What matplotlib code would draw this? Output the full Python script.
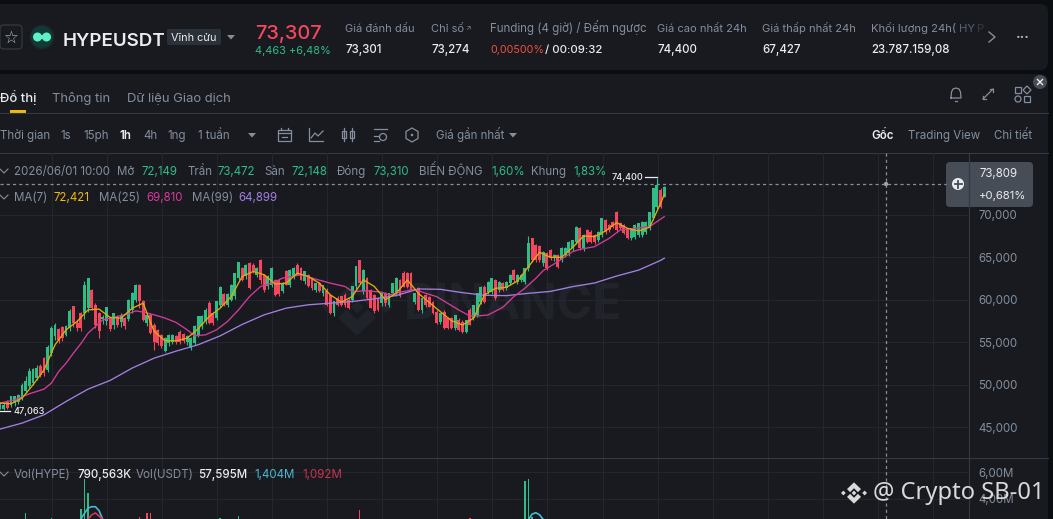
import matplotlib
matplotlib.use('Agg')
import matplotlib.pyplot as plt
from matplotlib.patches import FancyBboxPatch, Rectangle, Circle, Polygon

plt.rcParams['font.family'] = ['Inter', 'DejaVu Sans']

# candles, 1h
opens = [47230,47100,48000,47620,47800,48000,48400,49190,49780,50175,
         50765,52140,53120,51750,53710,55675,56560,56760,55900,56660,
         59215,57250,58430,58500,59000,61180,59400,58400,57700,57500,
         57800,57000,58000,57400,57900,57700,58800,60000,61770,59800,
         57250,58230,57050,56460,55870,53910,54890,55010,55680,56190,
         55950,55010,54300,54890,55870,56855,57445,59600,58430,57840,
         59410,60670,59410,60000,60390,62550,63735,62750,64320,64130,
         62950,64715,62950,61570,61770,62360,62360,60980,63340,61770,
         62750,64130,63735,62160,62950,62550,61180,61965,60785,60980,
         60590,58430,60195,60390,60590,60000,60000,61570,64715,60980,
         62550,61180,60590,60195,59600,60785,59410,60785,60785,62360,
         63200,63120,63120,59780,61355,58800,60570,60370,59780,58600,
         57425,58600,57815,57815,56640,57620,57425,56245,58800,57815,
         58210,59780,61550,60960,60960,62337,61160,61945,61355,61945,
         63516,62140,62337,62140,63710,67250,66460,66345,64300,65480,
         65870,64890,65280,64700,65280,65480,66070,66855,68430,66070,
         68230,68035,67640,67050,67640,69410,68820,69215,70390,69020,
         68820,68430,67250,67445,67640,67640,68035,68430,69600,70980,
         73000,72149]
highs = [48000,47900,48200,48700,48700,48900,50200,51000,51900,52000,
         52300,52400,53300,54700,56900,57300,56700,56900,57000,58900,
         59300,57600,58600,62160,62600,61300,59600,58600,58200,59100,
         58000,58400,58200,58500,58000,60100,60900,61900,61900,60000,
         58300,58400,57300,56600,56000,55600,56000,56000,55800,56400,
         56100,55800,55600,57000,58100,58200,59000,59800,58600,59900,
         61600,60800,60800,61900,63200,64500,63900,64200,64400,64300,
         63900,64800,63100,62900,63900,62500,62500,62100,63500,63600,
         63900,64300,63900,63400,63100,62700,62000,62100,61800,61400,
         60700,59900,60400,60500,60800,60200,61600,63950,64750,63600,
         62700,61300,60700,60300,60900,60900,60800,62000,62700,62500,
         63400,63250,63300,60800,61500,60200,60700,60500,59900,58800,
         58400,58800,58000,58000,58200,57800,57600,57650,59000,59400,
         60800,61600,61700,62200,62600,62500,62200,62100,62200,63000,
         63650,63000,63000,63800,67525,67300,66600,66500,65800,65600,
         66000,65400,65400,66200,66200,66900,67100,68700,68600,67700,
         68400,68200,67800,68100,69700,69500,68900,69300,70500,69200,
         68950,68500,68500,68900,69100,69300,69300,70400,73200,74400,
         73200,73472]
lows = [47100,47063,47100,47400,47500,47700,48200,49000,49600,49900,
        50500,50900,51000,51500,53400,55300,54900,55200,55700,56300,
        56800,56300,56300,57700,58600,58800,56700,55500,57200,57000,
        56300,56600,56800,56800,56500,57500,58500,59700,59000,57500,
        56900,56000,54100,54700,54300,53800,54600,54800,54800,54800,
        54900,54700,54100,54700,55600,56600,57200,57100,57000,57600,
        59200,59300,59200,59800,60100,62300,62200,62500,61300,63200,
        62700,61900,60900,61300,61500,60500,60500,60800,61700,61500,
        62500,62900,62300,61900,61500,61200,60900,60900,60500,59300,
        58300,58100,59300,59300,59200,58900,59700,61300,61900,60700,
        60100,59000,58500,58700,59300,59300,59100,60500,60500,60300,
        61500,61400,61100,59500,58700,58500,59200,59100,58300,57100,
        57200,56500,56500,56500,56400,56300,56100,56050,57000,57600,
        58000,59500,59600,60700,60700,60000,60900,61000,61100,61700,
        62100,61900,62100,61900,63400,64500,64500,64500,64000,63500,
        64700,64600,63700,64400,65000,65200,65800,66600,65900,65800,
        66700,66700,66600,66800,67400,67800,68000,68500,68000,68300,
        67800,67200,67000,67200,67400,67400,67800,68200,69400,70700,
        70800,72148]
closes = [47815,47620,47230,48600,48600,48800,49980,50370,51550,51825,
          51945,51160,51355,54420,56660,57050,55285,55480,56900,58625,
          57250,56660,56660,61800,62555,59000,57000,56300,58000,59100,
          56600,58400,57000,58200,56900,60000,60800,61690,59800,57640,
          58230,56070,55000,54890,54500,55480,55870,55870,55010,55010,
          55090,55680,55480,56855,58035,58035,58820,57250,57250,59800,
          61490,59410,60670,61770,63140,64440,62360,64130,61375,63340,
          63735,62360,61180,62750,63735,60590,60670,61965,61770,63535,
          63735,62950,62360,63340,61570,61375,61965,60980,61770,59410,
          58430,59800,59410,59410,59410,59020,61570,63930,61965,63535,
          60195,59020,58625,58820,60785,59600,60785,61965,62550,60390,
          61550,61550,61160,60765,58800,60175,59390,59190,58400,57230,
          58400,56640,56640,56640,58210,56440,56245,57620,57030,59390,
          60765,61550,59780,62140,62530,60175,62140,61160,62140,62925,
          62337,62925,62925,63710,66660,64695,64695,64700,65675,63710,
          64890,65280,63910,66070,66070,66855,67050,68625,66070,67640,
          66855,66855,66855,68035,69600,68035,68230,68625,68230,68430,
          67840,67250,68430,68820,69020,69215,69215,70390,73140,73500,
          70980,73310]

# moving averages, read every few candles
ma7_idx = list(range(0, 181, 3)) + [181]
ma7 = [47817,47740,48400,49980,51750,54695,56460,57445,58820,58900,57920,57840,59000,
       59600,56265,55165,55165,55480,56580,58035,59020,60390,62750,63340,62950,
       61850,61965,63140,62750,61965,60590,59725,60390,62360,61570,60000,60785,
       62337,60765,59665,58600,57540,57030,57815,60570,61355,61470,62220,63910,
       65600,65010,65010,66150,67525,67445,68115,69095,68430,68115,68545,71375,72421]
ma25_idx = [0,4,8,12,14,16,18,20,22,24,26,28,30,32,35,37,39,42,45,48,51,53,56,59,62,65,68,71,74,
            77,82,85,90,94,96,100,104,106,110,113,116,119,122,125,128,130,133,137,140,143,146,
            148,152,156,158,162,166,169,173,177,181]
ma25 = [47817,48210,48917,49470,50175,51550,52530,53710,54810,56070,56856,57640,57840,58035,58350,
        58700,58545,58230,57840,57325,56460,55755,55870,56460,57445,58820,60390,61570,61965,
        62555,62950,62555,61965,61570,60980,61060,60900,60590,60980,61240,60765,60370,59585,
        58800,58090,58090,58210,59115,60370,61355,62530,63437,64500,65675,65950,66265,67250,
        68230,68430,68625,69810]
ma99_idx = list(range(0, 181, 6)) + [181]
ma99 = [44752,45460,46440,48010,49470,50490,51945,53120,53950,54700,55750,57100,
        58230,59020,59410,59600,59800,60110,60510,61275,61235,60845,60530,60490,
        60765,60990,61550,61980,62800,63500,64650,64899]

# volume panel, only the tallest bars rise into the crop (millions)
vol_idx = [7, 14, 22, 23, 24, 38, 40, 41, 60, 65, 98, 128, 143, 144, 145]
vol_val = [2.93, 2.55, 3.23, 5.48, 4.46, 2.63, 2.93, 2.93, 2.55, 2.70, 3.15, 2.55, 5.33, 5.48, 2.63]
vol_up = [1, 1, 1, 1, 1, 0, 0, 0, 1, 1, 0, 0, 1, 1, 1]
vol_line1_idx = [22, 23, 24, 25, 26, 27, 28]
vol_line1 = [2.45, 2.9, 3.3, 3.4, 3.4, 3.1, 2.45]
vol_line2_idx = [24, 25, 26, 27, 28]
vol_line2 = [2.45, 2.8, 2.93, 2.7, 2.45]
vol_line3_idx = [144, 145, 146, 147, 148]
vol_line3 = [2.45, 2.85, 2.95, 2.8, 2.45]

price_ticks = [45000, 50000, 55000, 60000, 65000, 70000]
vol_ticks = [4, 6]

BG = '#0b0e11'
PANEL = '#181a20'
GRID = '#23262d'
LINE = '#333a44'
GREY = '#848e9c'
WHITE = '#eaecef'
GREEN = '#2ebd85'
RED = '#f6465d'
YELLOW = '#f0b90b'
PINK = '#d9399b'
PURPLE = '#a37fe0'
CYAN = '#4bb8d3'

W, H = 1053, 519
fig = plt.figure(figsize=(W / 100, H / 100), dpi=100, facecolor=BG)

back = fig.add_axes([0, 0, 1, 1], zorder=0)
back.set_xlim(0, W)
back.set_ylim(H, 0)
back.axis('off')
over = fig.add_axes([0, 0, 1, 1], zorder=3)
over.set_xlim(0, W)
over.set_ylim(H, 0)
over.axis('off')
over.patch.set_alpha(0)


def rbox(ax, x, y, w, h, r, **kw):
    ax.add_patch(FancyBboxPatch((x + r, y + r), w - 2 * r, h - 2 * r,
                                boxstyle='round,pad=%f,rounding_size=%f' % (r, r), **kw))


def txt(x, y, s, color=GREY, size=8.3, weight='normal', ha='left', ax=over, **kw):
    # y is the middle of the capitals, so diacritics don't shift the line
    ax.text(x, y + 0.505 * size, s, color=color, fontsize=size, fontweight=weight, ha=ha, va='baseline', **kw)


def binance_logo(ax, cx, cy, s, color, zorder=2):
    # centre + side diamonds, then the two chevrons
    for dx, dy, r in [(0, 0, .17), (-.76, 0, .17), (.76, 0, .17)]:
        ax.add_patch(Polygon([(cx + (dx - r) * s, cy), (cx + dx * s, cy - r * s),
                              (cx + (dx + r) * s, cy), (cx + dx * s, cy + r * s)],
                             fc=color, ec='none', zorder=zorder))
    for sgn in (-1, 1):
        pts = [(-.5, .28), (0, .76), (.5, .28), (.28, .06), (0, .34), (-.28, .06)]
        ax.add_patch(Polygon([(cx + a * s, cy + sgn * b * s) for a, b in pts],
                             fc=color, ec='none', zorder=zorder))


# panels
rbox(back, -10, 4, 1058, 66, 8, fc=PANEL, ec='none')
rbox(back, -10, 74, 1058, 460, 8, fc=PANEL, ec='none')
back.plot([0, 1048], [113, 113], color=LINE, lw=0.8)
back.plot([0, 1048], [153, 153], color=LINE, lw=0.8)
back.add_patch(Rectangle((10, 110), 16, 3, fc=YELLOW, ec='none'))

# watermark
binance_logo(back, 357, 307, 38, '#202329')
back.text(513, 306, 'BINANCE', color='#202329', fontsize=34.5, fontweight='bold',
          ha='center', va='center')

# price panel
xlim = (0, 969 / 3.67)
ax = fig.add_axes([0, (H - 458) / H, 969 / W, 305 / H], zorder=1)
ax.patch.set_alpha(0)
ax.set_xlim(xlim)
ax.set_ylim(41345, 77310)
idx = list(range(len(closes)))
colors = [GREEN if c >= o else RED for o, c in zip(opens, closes)]
ax.vlines(idx, lows, highs, colors=colors, lw=0.8, zorder=3)
ax.bar(idx, [abs(c - o) for o, c in zip(opens, closes)], bottom=[min(o, c) for o, c in zip(opens, closes)],
       width=0.78, color=colors, linewidth=0, zorder=3)
ax.plot(ma99_idx, ma99, color=PURPLE, lw=0.95, zorder=4)
ax.plot(ma25_idx, ma25, color='#d23c9a', lw=0.95, zorder=5)
ax.plot(ma7_idx, ma7, color='#e3ab0c', lw=0.95, zorder=6)

# volume panel
vax = fig.add_axes([0, 0, 969 / W, 61 / H], zorder=1)
vax.patch.set_alpha(0)
vax.set_xlim(xlim)
vax.set_ylim(2.48, 7.05)
vax.bar(vol_idx, vol_val, width=0.42, color=[GREEN if u else RED for u in vol_up], linewidth=0, zorder=3)
vax.plot(vol_line1_idx, vol_line1, color=CYAN, lw=1.2, zorder=4)
vax.plot(vol_line3_idx, vol_line3, color=CYAN, lw=1.2, zorder=4)
vax.plot(vol_line2_idx, vol_line2, color='#d6315f', lw=1.2, zorder=4)

grid_x = [14.17 + 15 * k for k in range(17)]
for a in (ax, vax):
    a.set_xticks(grid_x)
    a.tick_params(axis='x', length=0, labelbottom=False)
    a.grid(True, color=GRID, lw=0.8, zorder=0)
    a.set_axisbelow(True)
    for sp in a.spines.values():
        sp.set_visible(False)
    a.yaxis.tick_right()
    a.tick_params(axis='y', length=0, pad=6.5, labelcolor=GREY, labelsize=8.3)
ax.set_yticks(price_ticks)
ax.set_yticklabels([f'{v:,}' for v in price_ticks])
vax.set_yticks(vol_ticks)
vax.set_yticklabels([f'{v},00M' for v in vol_ticks])

# panel borders and crosshair
over.plot([0, 1048], [458, 458], color=LINE, lw=0.8)
over.plot([969, 969], [153, 519], color=LINE, lw=0.8)
over.plot([0, 946], [184, 184], color='#8a8f98', lw=0.9, dashes=(2.5, 2.5))
over.plot([886, 886], [153, 519], color='#8a8f98', lw=0.9, dashes=(2.5, 2.5))
over.add_patch(Circle((886, 184), 2.2, fc='#a0a5ad', ec='none'))

# price tag on the crosshair
rbox(over, 946, 162, 87, 45, 4, fc='#474d57', ec='none')
over.plot([969, 969], [162, 207], color='#333a44', lw=0.8)
over.add_patch(Circle((958, 184), 6, fc=WHITE, ec='none'))
over.plot([954.5, 961.5], [184, 184], color='#474d57', lw=1.3)
over.plot([958, 958], [180.5, 187.5], color='#474d57', lw=1.3)
txt(979, 173, '73,809', WHITE, 8.3)
txt(979, 195, '+0,681%', WHITE, 8.2)

# high / low marks
over.plot([645, 657], [177, 177], color=WHITE, lw=0.9)
txt(643, 177, '74,400', WHITE, 6.6, ha='right', weight='medium')
over.plot([0, 10], [411, 411], color=WHITE, lw=0.9)
txt(13, 411, '47,063', WHITE, 6.6, weight='medium')

# legend rows
for y in (171, 197, 474):
    over.plot([0, 4, 8], [y - 2, y + 2, y - 2], color=GREY, lw=0.8)
row1 = [(14, '2026/06/01 10:00', GREY), (117, 'Mở', GREY), (142, '72,149', GREEN), (187, 'Trần', GREY),
        (218, '73,472', GREEN), (264, 'Sàn', GREY), (291, '72,148', GREEN), (337, 'Đóng', GREY),
        (374, '73,310', GREEN), (419, 'BIẾN ĐỘNG', GREY), (491, '1,60%', GREEN), (531, 'Khung', GREY),
        (573, '1,83%', GREEN)]
for x, s, c in row1:
    txt(x, 171, s, c)
row2 = [(14, 'MA(7)', GREY), (54, '72,421', YELLOW), (99, 'MA(25)', GREY), (146, '69,810', PINK),
        (192, 'MA(99)', GREY), (238, '64,899', PURPLE)]
for x, s, c in row2:
    txt(x, 197, s, c)
row3 = [(14, 'Vol(HYPE)', GREY), (77, '790,563K', WHITE), (136, 'Vol(USDT)', GREY), (198, '57,595M', WHITE),
        (254, '1,404M', CYAN), (302, '1,092M', '#c9344f')]
for x, s, c in row3:
    txt(x, 474, s, c, weight='medium' if c == WHITE else 'normal')

# header
rbox(over, 0, 25, 22, 24, 4, fc='none', ec='#333a44', lw=0.9)
txt(11, 37, '☆', '#b7bdc6', 12, ha='center', family='DejaVu Sans')
over.add_patch(Circle((42, 37), 11.5, fc='#0e3b35', ec='#20262c', lw=1))
over.add_patch(Circle((37.5, 37), 4.5, fc='#5ff0c8', ec='none'))
over.add_patch(Circle((46.5, 37), 4.5, fc='#5ff0c8', ec='none'))
over.add_patch(Rectangle((39, 35), 6, 4, fc='#5ff0c8', ec='none'))
txt(63, 39, 'HYPEUSDT', WHITE, 13.5, weight='semibold')
rbox(over, 167, 29, 54, 16, 2, fc='#2b3139', ec='none')
txt(171, 37, 'Vĩnh cửu', WHITE, 7.8)
over.add_patch(Polygon([(227, 35), (235, 35), (231, 39.5)], fc=GREY, ec='none'))
txt(255, 32, '73,307', RED, 14.4, weight='medium')
txt(255, 50, '4,463 +6,48%', GREEN, 7.9)
heads = [(345, 'Giá đánh dấu', 8.0), (431, 'Chỉ số', 8.0), (490, 'Funding (4 giờ) / Đếm ngược', 8.3),
         (657, 'Giá cao nhất 24h', 8.0), (762, 'Giá thấp nhất 24h', 8.05)]
for x, s, sz in heads:
    txt(x, 28, s, GREY, sz)
txt(465, 27, '↗', GREY, 5)
txt(871, 28, 'Khối lượng 24h(', GREY, 8.1)
txt(959, 28, 'HY', '#59616c', 8.1)
txt(977, 28, 'P', '#343a43', 8.1)
vals = [(345, '73,301'), (431, '73,274'), (657, '74,400'), (762, '67,427'), (871, '23.787.159,08')]
for x, s in vals:
    txt(x, 49, s, WHITE, 8.3, weight='medium')
txt(490, 49, '0,00500%', '#f0513f', 7.7)
txt(545, 49, '/ 00:09:32', WHITE, 8.2, weight='medium')
over.plot([989, 995, 989], [32, 37, 42], color=GREY, lw=1)
txt(1023, 33, '...', '#b7bdc6', 10, ha='center', weight='bold')

# tabs and toolbar
txt(0, 97, 'Đồ thị', WHITE, 9.4, weight='medium')
txt(52, 97, 'Thông tin', GREY, 9.4)
txt(127, 97, 'Dữ liệu Giao dịch', GREY, 9.4)
tools = [(0, 'Thời gian', GREY), (60, '1s', GREY), (83, '15ph', GREY), (120, '1h', WHITE), (143, '4h', GREY),
         (167, '1ng', GREY), (198, '1 tuần', GREY), (436, 'Giá gần nhất', GREY), (908, 'Trading View', GREY),
         (994, 'Chi tiết', GREY), (871, 'Gốc', WHITE)]
for x, s, c in tools:
    txt(x, 135, s, c, weight='semibold' if c == WHITE else 'normal')
for x in (252, 513):
    over.add_patch(Polygon([(x - 4, 133), (x + 4, 133), (x, 137.5)], fc=GREY, ec='none'))

# toolbar icons
ic = dict(color=GREY, lw=0.9)
over.add_patch(Rectangle((278, 130), 13, 11, fc='none', ec=GREY, lw=0.9))
over.plot([278, 291], [133, 133], **ic)
over.plot([281, 281], [128, 130], **ic)
over.plot([288, 288], [128, 130], **ic)
over.plot([282, 287], [137, 137], **ic)
over.plot([309, 309, 323], [128, 141, 141], **ic)
over.plot([311, 315, 318, 323], [138, 133, 136, 131], **ic)
for x in (344, 352):
    over.add_patch(Rectangle((x - 2, 131), 4, 7, fc='none', ec=GREY, lw=0.9))
    over.plot([x, x], [128, 141], **ic)
over.plot([374, 387], [129, 129], **ic)
over.plot([374, 379], [136, 136], **ic)
over.plot([374, 379], [141, 141], **ic)
over.add_patch(Circle((383, 137), 3.5, fc='none', ec=GREY, lw=0.9))
over.add_patch(Polygon([(412, 128), (418, 131.5), (418, 138.5), (412, 142), (406, 138.5), (406, 131.5)],
                       fc='none', ec=GREY, lw=0.9))
over.add_patch(Circle((412, 135), 1.3, fc=GREY, ec='none'))

# top right icons
over.plot([951, 951.5, 953, 956, 959, 960.5, 961, 951], [98, 92, 89, 88, 89, 92, 98, 98], **ic)
over.plot([955, 957], [101, 101], **ic)
over.plot([983, 993], [99, 89], **ic)
over.plot([990, 993, 993], [89, 89, 92], **ic)
over.plot([983, 983, 986], [96, 99, 99], **ic)
for gx, gy in [(1015, 87), (1024, 96)]:
    over.add_patch(Rectangle((gx, gy), 6, 6, fc='none', ec=GREY, lw=0.9))
over.add_patch(Circle((1018, 99), 3, fc='none', ec=GREY, lw=0.9))
over.add_patch(Polygon([(1027, 86), (1031, 90), (1027, 94), (1023, 90)], fc='none', ec=GREY, lw=0.9))
over.add_patch(Circle((1040, 82), 7, fc='#474d57', ec='none'))
over.plot([1037.5, 1042.5], [79.5, 84.5], color=WHITE, lw=1)
over.plot([1037.5, 1042.5], [84.5, 79.5], color=WHITE, lw=1)

# uploader's mark over everything
binance_logo(over, 854, 493, 14, '#d9d9d9', zorder=10)
over.text(873, 493, '@ Crypto SB-01', color='#d9d9d9', fontsize=17.1, family='Noto Sans',
          ha='left', va='center', zorder=10)

plt.savefig('out.png', dpi=100, facecolor=BG)
